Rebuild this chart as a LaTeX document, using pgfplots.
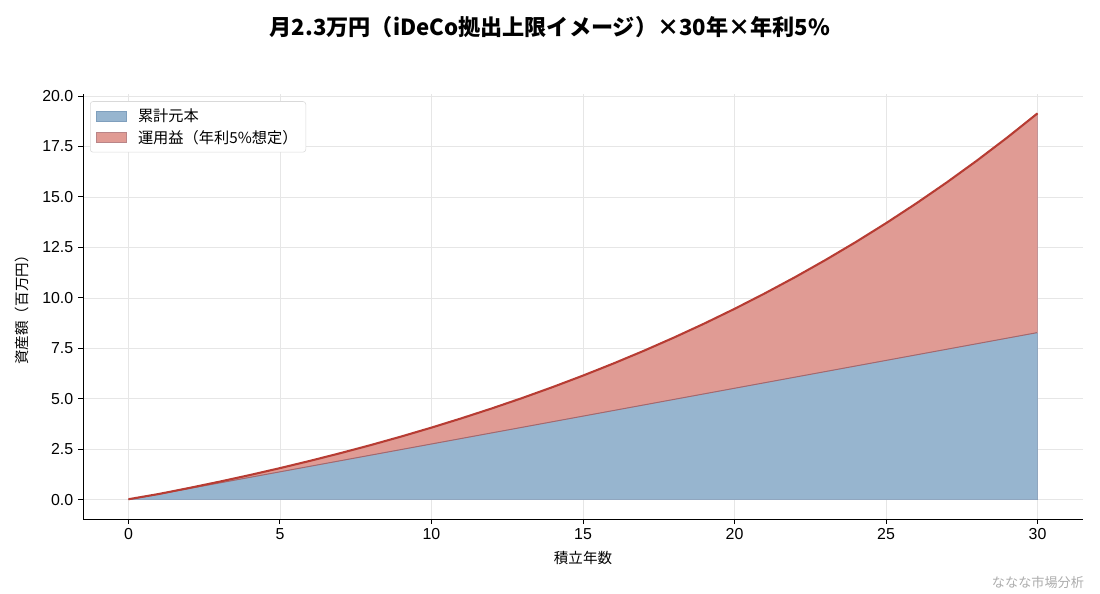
\documentclass[border=0pt]{standalone}
\usepackage{pgfplots}
\pgfplotsset{compat=1.18}
\usepackage{pgfplotstable}
\usepackage{fontspec}
\setmainfont{Noto Sans CJK JP}
\newfontfamily\tickfont{Liberation Sans}

\definecolor{prinfill}{HTML}{97B5CF}
\definecolor{prinedge}{HTML}{7F9FBD}
\definecolor{gainfill}{HTML}{E09B94}
\definecolor{gainedge}{HTML}{A8666A}
\definecolor{topline}{HTML}{B73C33}
\definecolor{gridgray}{HTML}{E6E6E6}

% year, cumulative principal, total value (million yen)
\pgfplotstableread{
year prin total
0  0.000  0.023
1  0.276  0.282
2  0.552  0.579
3  0.828  0.891
4  1.104  1.219
5  1.380  1.564
6  1.656  1.927
7  1.932  2.308
8  2.208  2.708
9  2.484  3.129
10 2.760  3.571
11 3.036  4.037
12 3.312  4.526
13 3.588  5.040
14 3.864  5.580
15 4.140  6.148
16 4.416  6.745
17 4.692  7.372
18 4.968  8.032
19 5.244  8.725
20 5.520  9.454
21 5.796 10.222
22 6.072 11.027
23 6.348 11.874
24 6.624 12.763
25 6.900 13.699
26 7.176 14.682
27 7.452 15.715
28 7.728 16.802
29 8.004 17.944
30 8.280 19.142
}\datatable

\begin{document}
\begin{tikzpicture}
\path[use as bounding box] (0,0) rectangle (792bp,427.68bp);
\node[font=\fontsize{16}{18}\selectfont\bfseries] at (396bp,408.2bp) {月2.3万円（iDeCo拠出上限イメージ）×30年×年利5\%};
\node[font=\fontsize{9.5}{11}\selectfont, text=gray!65, anchor=east] at (784bp,8.6bp) {ななな市場分析};
\begin{axis}[
  at={(59.76bp,54bp)}, anchor=south west,
  scale only axis,
  width=720bp, height=306bp,
  xmin=-1.5, xmax=31.5,
  ymin=-0.957, ymax=20.1,
  axis x line*=bottom, axis y line*=left,
  axis line style={line width=0.7pt},
  xtick={0,5,...,30},
  ytick={0,2.5,...,20},
  tick align=outside,
  major tick length=3.5bp,
  tick style={line width=0.7pt, black},
  grid=major,
  grid style={gridgray, line width=0.5pt},
  yticklabel style={/pgf/number format/fixed, /pgf/number format/fixed zerofill, /pgf/number format/precision=1},
  ticklabel style={font=\tickfont\fontsize{11.5}{13}\selectfont, /pgf/number format/assume math mode=true},
  xlabel={積立年数},
  ylabel={資産額（百万円）},
  label style={font=\fontsize{10.5}{12}\selectfont},
  xlabel style={yshift=-1pt},
  ylabel style={yshift=3pt},
  legend style={at={(0.007,0.983)}, anchor=north west, font=\fontsize{11}{12}\selectfont,
    draw=gray!30, fill=white, rounded corners=2pt, row sep=1pt, inner xsep=4pt, inner ysep=3pt},
  legend cell align=left,
  legend image code/.code={\draw[#1, sharp corners] (0bp,-3.6bp) rectangle (21.6bp,3.6bp);
    \path (28bp,0bp);},
]
\addplot[fill=gainfill, draw=none, forget plot] table[x=year, y=total] {\datatable} \closedcycle;
\addplot[fill=prinfill, draw=prinedge] table[x=year, y=prin] {\datatable} \closedcycle;
\addlegendentry{累計元本}
\addlegendimage{fill=gainfill, draw=gainedge!80}
\addlegendentry{運用益（年利5\%想定）}
\addplot[gainedge, line width=0.7pt, forget plot] table[x=year, y=prin] {\datatable};
\addplot[gainedge!70, line width=0.5pt, forget plot] coordinates {(30,8.28) (30,19.142)};
\addplot[topline, line width=1.5pt, forget plot] table[x=year, y=total] {\datatable};
\end{axis}
\end{tikzpicture}
\end{document}
